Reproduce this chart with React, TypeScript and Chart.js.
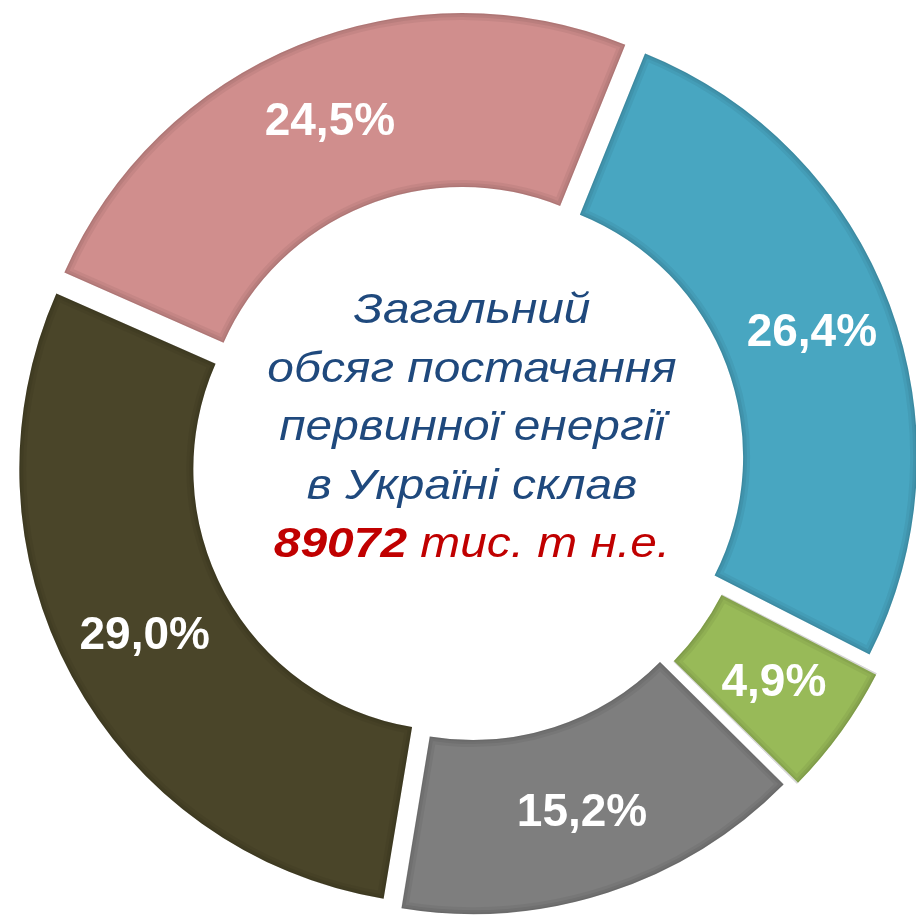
import React, { useEffect, useRef } from "react";
import { Chart, registerables } from "chart.js";

Chart.register(...registerables);

const categories = ["Вугілля", "Відновлювані", "Нафтопродукти", "Природний газ", "Атомна енергія"];
const shares = [26.4, 4.9, 15.2, 29.0, 24.5];
const shareLabels = ["26,4%", "4,9%", "15,2%", "29,0%", "24,5%"];
const colors = ["#48A6C1", "#98BA58", "#7E7E7E", "#4A4529", "#D08E8D"];
const centerLines = ["Загальний", "обсяг постачання", "первинної енергії", "в Україні склав"];
const totalValue = "89072";
const totalUnit = " тис. т н.е.";

const FONT = '"Liberation Sans", Arial, sans-serif';

function arcGeom(el: any) {
  const off = (el.options.offset || 0) / 4;
  const circ = el.endAngle - el.startAngle;
  const fix = 1 - Math.sin(Math.min(Math.PI, circ));
  const rOff = off * fix;
  const half = (el.startAngle + el.endAngle) / 2;
  return {
    cx: el.x + Math.cos(half) * off,
    cy: el.y + Math.sin(half) * off,
    outer: el.outerRadius + rOff,
    inner: el.innerRadius + rOff,
    half,
  };
}

const bevelPlugin = {
  id: "bevel",
  afterDatasetsDraw(chart: any) {
    const ctx = chart.ctx;
    const meta = chart.getDatasetMeta(0);
    meta.data.forEach((el: any) => {
      const g = arcGeom(el);
      ctx.save();
      ctx.beginPath();
      ctx.arc(g.cx, g.cy, g.outer, el.startAngle, el.endAngle);
      ctx.arc(g.cx, g.cy, g.inner, el.endAngle, el.startAngle, true);
      ctx.closePath();
      ctx.clip();
      ctx.lineJoin = "miter";
      ctx.strokeStyle = "rgba(0,0,0,0.05)";
      ctx.lineWidth = 14;
      ctx.stroke();
      ctx.strokeStyle = "rgba(0,0,0,0.06)";
      ctx.lineWidth = 8;
      ctx.stroke();
      ctx.strokeStyle = "rgba(0,0,0,0.06)";
      ctx.lineWidth = 3;
      ctx.stroke();
      ctx.restore();
    });
  },
};

const labelPlugin = {
  id: "labels",
  afterDraw(chart: any) {
    const ctx = chart.ctx;
    const meta = chart.getDatasetMeta(0);
    ctx.save();
    ctx.fillStyle = "#FFFFFF";
    ctx.font = `bold 46px ${FONT}`;
    ctx.textAlign = "center";
    ctx.textBaseline = "middle";
    meta.data.forEach((el: any, i: number) => {
      const g = arcGeom(el);
      const r = (g.inner + g.outer) / 2 + 4;
      const x = g.cx + Math.cos(g.half) * r;
      const y = g.cy + Math.sin(g.half) * r;
      ctx.fillText(shareLabels[i], x, y);
    });

    // center text (horizontally stretched like the original)
    const el0 = meta.data[0];
    const cx = el0.x + 4;
    const cy = el0.y;
    const lh = 58.5;
    const first = cy - 139;
    const sx = 1.14;
    ctx.translate(cx, 0);
    ctx.scale(sx, 1);
    ctx.textBaseline = "alphabetic";
    ctx.fillStyle = "#1F497D";
    ctx.font = `italic 42px ${FONT}`;
    centerLines.forEach((t, i) => {
      ctx.fillText(t, 0, first + i * lh);
    });
    const yLast = first + centerLines.length * lh;
    ctx.font = `italic bold 42px ${FONT}`;
    const w1 = ctx.measureText(totalValue).width;
    ctx.font = `italic 42px ${FONT}`;
    const w2 = ctx.measureText(totalUnit).width;
    const start = -(w1 + w2) / 2;
    ctx.textAlign = "left";
    ctx.fillStyle = "#C00000";
    ctx.font = `italic bold 42px ${FONT}`;
    ctx.fillText(totalValue, start, yLast);
    ctx.font = `italic 42px ${FONT}`;
    ctx.fillText(totalUnit, start + w1, yLast);
    ctx.restore();
  },
};

export default function App() {
  const ref = useRef<HTMLCanvasElement>(null);
  useEffect(() => {
    if (!ref.current) return;
    const chart = new Chart(ref.current, {
      type: "doughnut",
      data: {
        labels: categories,
        datasets: [
          {
            data: shares,
            backgroundColor: colors,
            borderWidth: 0,
            offset: 60,
            hoverOffset: 0,
          },
        ],
      },
      options: {
        responsive: false,
        animation: false,
        rotation: 22,
        cutout: "60%",
        radius: 435,
        layout: { padding: { left: 20, top: 7, right: 0, bottom: 0 } },
        plugins: {
          legend: { display: false },
          tooltip: { enabled: false },
        },
        events: [],
      },
      plugins: [bevelPlugin, labelPlugin],
    });
    return () => chart.destroy();
  }, []);
  return (
    <div style={{ position: "absolute", left: 0, top: 0, width: 916, height: 917, background: "#FFFFFF" }}>
      <canvas ref={ref} width={916} height={917} style={{ display: "block" }} />
    </div>
  );
}
